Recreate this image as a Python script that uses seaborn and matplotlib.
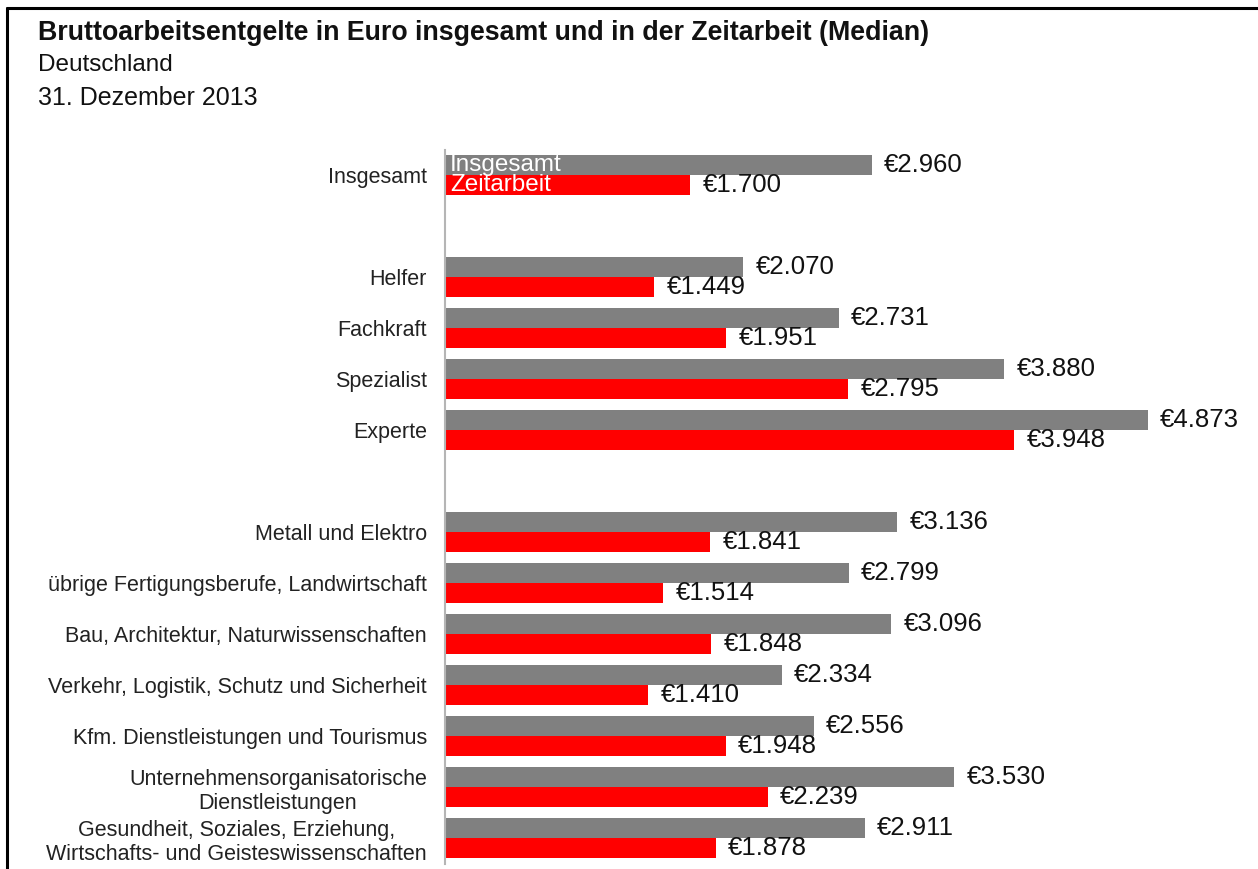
import seaborn as sns
import matplotlib.pyplot as plt
import pandas as pd
from matplotlib.lines import Line2D

# data
categories = [
    "Insgesamt",
    "Helfer", "Fachkraft", "Spezialist", "Experte",
    "Metall und Elektro",
    "übrige Fertigungsberufe, Landwirtschaft",
    "Bau, Architektur, Naturwissenschaften",
    "Verkehr, Logistik, Schutz und Sicherheit",
    "Kfm. Dienstleistungen und Tourismus",
    "Unternehmensorganisatorische\nDienstleistungen",
    "Gesundheit, Soziales, Erziehung,\nWirtschafts- und Geisteswissenschaften",
]
insgesamt = [2960, 2070, 2731, 3880, 4873, 3136, 2799, 3096, 2334, 2556, 3530, 2911]
zeitarbeit = [1700, 1449, 1951, 2795, 3948, 1841, 1514, 1848, 1410, 1948, 2239, 1878]
series = ["Insgesamt", "Zeitarbeit"]
colors = ["#808080", "#ff0000"]

# empty slots between the groups
order = categories[:1] + [" "] + categories[1:5] + ["  "] + categories[5:]

df = pd.DataFrame({
    "Beruf": categories * 2,
    "Wert": insgesamt + zeitarbeit,
    "Art": [series[0]] * len(categories) + [series[1]] * len(categories),
})

sns.set_theme(style="white")
plt.rcParams["font.family"] = ["Liberation Sans", "DejaVu Sans"]

fig = plt.figure(figsize=(12.58, 8.69), dpi=100)
ax = fig.add_axes([445 / 1258, 1 - 863.5 / 869, 780 / 1258, 714 / 869])

sns.barplot(data=df, y="Beruf", x="Wert", hue="Art", order=order, hue_order=series,
            palette=colors, saturation=1, width=0.78, gap=0, orient="h",
            linewidth=0, legend=False, ax=ax)

ax.set_xlim(0, 5410)
ax.set_ylim(13.5, -0.5)
ax.set_xlabel("")
ax.set_ylabel("")
ax.set_xticks([])
ax.tick_params(axis="y", length=0, pad=13, labelsize=15.5, labelcolor="#222222")
for lab in ax.get_yticklabels():
    lab.set_multialignment("center")

for s in ["top", "right", "bottom"]:
    ax.spines[s].set_visible(False)
ax.spines["left"].set_color("#b5b5b5")
ax.spines["left"].set_linewidth(1.5)

fmt = lambda v: "€" + f"{v:,.0f}".replace(",", ".")
for c in ax.containers:
    ax.bar_label(c, fmt=fmt, padding=9, fontsize=18.5, color="#111111")

# series names written inside the first pair of bars
ax.text(35, -0.2, "Insgesamt", color="white", fontsize=17.5, va="center", ha="left")
ax.text(35, 0.2, "Zeitarbeit", color="white", fontsize=17.5, va="center", ha="left")

fig.text(38 / 1258, 1 - 33 / 869, "Bruttoarbeitsentgelte in Euro insgesamt und in der Zeitarbeit (Median)",
         fontsize=19.3, fontweight="bold", va="center", ha="left", color="#111111")
fig.text(38 / 1258, 1 - 65 / 869, "Deutschland", fontsize=17.5, va="center", ha="left", color="#111111")
fig.text(38 / 1258, 1 - 98 / 869, "31. Dezember 2013", fontsize=18, va="center", ha="left", color="#111111")

# frame of the screenshot
fig.add_artist(Line2D([7 / 1258, 1], [1 - 8 / 869, 1 - 8 / 869], color="black", lw=2.2))
fig.add_artist(Line2D([7 / 1258, 7 / 1258], [0, 1 - 8 / 869], color="black", lw=2.2))

fig.savefig("out.png", dpi=100)
